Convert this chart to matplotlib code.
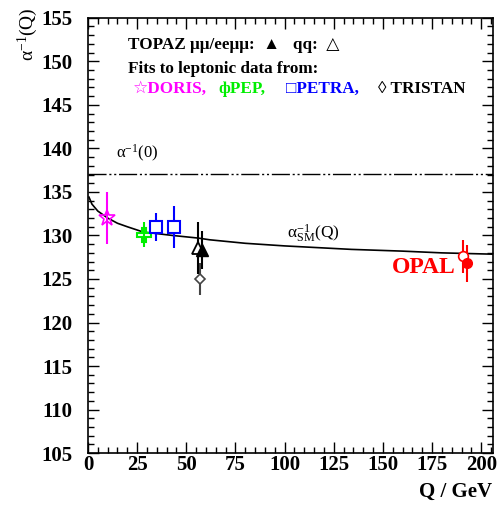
import numpy as np
from matplotlib import pyplot as plt
from matplotlib.ticker import MultipleLocator

plt.rcParams['font.family'] = ['Liberation Serif', 'DejaVu Sans']
plt.rcParams['mathtext.fontset'] = 'stix'

# Data
sm_q = [0.5, 2, 5, 10, 15, 20, 28, 43, 56, 62, 80, 100, 134, 160, 180, 206]
sm_alpha = [134.4, 133.6, 132.8, 132.0, 131.4, 131.0, 130.4, 130.0, 129.7,
            129.5, 129.1, 128.8, 128.4, 128.2, 128.0, 127.85]
alpha0 = 137.036

doris_q, doris_a, doris_e = [9.7], [132.0], [3.0]
pep_q, pep_a, pep_e = [28.5], [130.1], [1.4]
petra_q, petra_a, petra_e = [34.5, 43.5], [131.0, 131.0], [1.6, 2.4]
tristan_q, tristan_a, tristan_e = [57.0], [125.0], [1.8]
topaz_qq_q, topaz_qq_a, topaz_qq_e = [55.8], [128.6], [3.0]
topaz_ll_q, topaz_ll_a, topaz_ll_e = [58.2], [128.3], [2.2]
opal_open_q, opal_open_a, opal_open_e = [190.5], [127.6], [1.9]
opal_q, opal_a, opal_e = [192.8], [126.8], [2.1]

fig = plt.figure(figsize=(5, 5.08), dpi=100)
ax = fig.add_axes([0.176, 0.108, 0.81, 0.857])

# Reference lines
ax.axhline(alpha0, color='black', lw=1.0, dashes=(13, 2, 1.5, 2, 1.5, 2))
ax.plot(sm_q, sm_alpha, color='black', lw=1.2)

# Measurements
ekw = dict(linestyle='none', elinewidth=1.5, capsize=0)
ax.errorbar(doris_q, doris_a, yerr=doris_e, color='magenta', marker='*', ms=12,
            mfc='none', mew=1.2, **ekw)
ax.errorbar(pep_q, pep_a, yerr=pep_e, color='#00ee00', marker='P', ms=10,
            mfc='none', mew=1.5, **ekw)
ax.errorbar(petra_q, petra_a, yerr=petra_e, color='blue', marker='s', ms=9,
            mfc='white', mew=1.5, **ekw)
ax.errorbar(tristan_q, tristan_a, yerr=tristan_e, color='#444444', marker='D', ms=5,
            mfc='white', mew=1.2, **ekw)
ax.errorbar(topaz_qq_q, topaz_qq_a, yerr=topaz_qq_e, color='black', marker='^', ms=9,
            mfc='white', mew=1.3, **ekw)
ax.errorbar(topaz_ll_q, topaz_ll_a, yerr=topaz_ll_e, color='black', marker='^', ms=8,
            mfc='black', **ekw)
ax.errorbar(opal_open_q, opal_open_a, yerr=opal_open_e, color='red', marker='o', ms=7,
            mfc='white', mew=1.2, **ekw)
ax.errorbar(opal_q, opal_a, yerr=opal_e, color='red', marker='o', ms=7, **ekw)

# Limits and ticks
ax.set_xlim(0, 206)
ax.set_ylim(105, 155)
ax.xaxis.set_major_locator(MultipleLocator(25))
ax.xaxis.set_minor_locator(MultipleLocator(5))
ax.yaxis.set_major_locator(MultipleLocator(5))
ax.yaxis.set_minor_locator(MultipleLocator(1))
ax.tick_params(which='both', direction='in', top=True, right=True, width=1.0)
ax.tick_params(which='major', length=8, labelsize=15)
ax.tick_params(which='minor', length=4)
ax.tick_params(axis='x', which='major', pad=1)
ax.tick_params(axis='y', which='major', pad=11)
for lab in ax.get_xticklabels() + ax.get_yticklabels():
    lab.set_fontweight('bold')
for s in ax.spines.values():
    s.set_linewidth(1.2)

# Axis labels
fig.text(0.985, 0.012, 'Q / GeV', ha='right', va='bottom', fontsize=15, fontweight='bold')
fig.text(0.055, 0.985, r'$\mathregular{\alpha^{-1}}$(Q)', rotation=90, ha='center',
         va='top', fontsize=14)

# Annotations
ax.text(14, 138.2, r'$\mathregular{\alpha^{-1}}$(0)', fontsize=12, ha='left', va='bottom')
ax.text(101, 128.9, r'$\mathregular{\alpha^{-1}_{SM}}$(Q)', fontsize=12.5,
        ha='left', va='bottom')
ax.text(187, 126.3, 'OPAL', color='red', fontsize=17, fontweight='bold',
        ha='right', va='center')

# Header legend text
fs = 12.3
ax.text(0.098, 0.937, 'TOPAZ μμ/eeμμ:  ▲   qq:  △', transform=ax.transAxes,
        fontsize=fs, fontweight='bold', va='center')
ax.text(0.098, 0.882, 'Fits to leptonic data from:', transform=ax.transAxes,
        fontsize=fs, fontweight='bold', va='center')
ax.text(0.112, 0.836, '☆DORIS,', color='magenta', transform=ax.transAxes,
        fontsize=fs, fontweight='bold', va='center')
ax.text(0.322, 0.836, 'фPEP,', color='#00ee00', transform=ax.transAxes,
        fontsize=fs, fontweight='bold', va='center')
ax.text(0.49, 0.836, '□PETRA,', color='blue', transform=ax.transAxes,
        fontsize=fs, fontweight='bold', va='center')
ax.text(0.715, 0.836, '◊ TRISTAN', color='black', transform=ax.transAxes,
        fontsize=fs, fontweight='bold', va='center')

fig.savefig('out.png', dpi=100)
